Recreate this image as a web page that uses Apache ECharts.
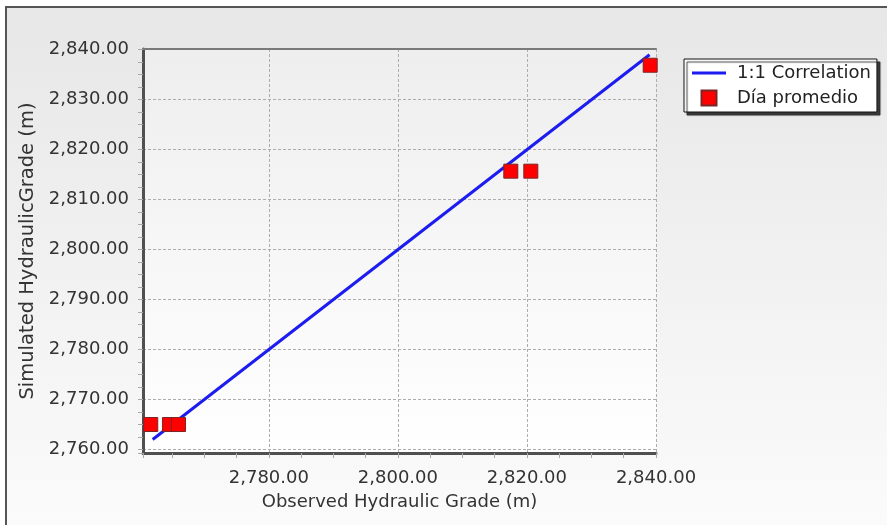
<!DOCTYPE html>
<html>
<head>
<meta charset="utf-8">
<script src="https://cdn.jsdelivr.net/npm/echarts@6/dist/echarts.min.js"></script>
<style>
  html, body { margin: 0; padding: 0; background: #ffffff; }
  #panel {
    position: absolute; left: 5px; top: 6px; width: 882px; height: 519px;
    border-left: 2px solid #555; border-top: 2px solid #555;
    background: linear-gradient(#e7e7e7, #fbfbfb);
  }
  #chart { position: absolute; left: 0; top: 0; width: 887px; height: 525px; }
</style>
</head>
<body>
<div id="panel"></div>
<div id="chart"></div>
<script>
// Observed vs simulated hydraulic grade (m) at the calibration nodes
const observed  = [2761.7, 2764.6, 2766.0, 2817.5, 2820.6, 2839.1];
const simulated = [2765.0, 2765.0, 2765.0, 2815.7, 2815.7, 2836.9];

// 1:1 reference line end points
const refLineX = [2762, 2839];
const refLineY = [2762, 2839];

const xRange = [2760.5, 2840];
const yRange = [2759.3, 2840.15];

const seriesNames = ['1:1 Correlation', 'Día promedio'];
const xTitle = 'Observed Hydraulic Grade (m)';
const yTitle = 'Simulated HydraulicGrade (m)';

const FONT = 'DejaVu Sans';
const fmt = v => v.toLocaleString('en-US', { minimumFractionDigits: 2, maximumFractionDigits: 2 });

const chart = echarts.init(document.getElementById('chart'), null, { renderer: 'canvas' });

const gridLine = { show: true, lineStyle: { color: '#adadad', type: [3, 2], width: 1 } };
const tickStyle = { show: true, inside: false, length: 5, lineStyle: { color: '#a8a8a8', width: 1 } };

chart.setOption({
  backgroundColor: 'transparent',
  animation: false,
  grid: {
    left: 143, right: 231, top: 49, bottom: 72,
    containLabel: false, outerBoundsMode: 'none',
    show: true, borderWidth: 0,
    backgroundColor: {
      type: 'linear', x: 0, y: 0, x2: 0, y2: 1,
      colorStops: [{ offset: 0, color: '#eeeeee' }, { offset: 1, color: '#ffffff' }]
    }
  },
  legend: {
    orient: 'vertical', left: 684, top: 59,
    padding: [5, 6, 5, 8],
    itemWidth: 34, itemHeight: 15, itemGap: 7,
    backgroundColor: '#ffffff', borderColor: '#111', borderWidth: 1,
    shadowColor: 'rgba(40,40,40,0.9)', shadowBlur: 1, shadowOffsetX: 3, shadowOffsetY: 3,
    textStyle: { fontFamily: FONT, fontSize: 18, color: '#222', padding: [0, 0, 0, 6] },
    data: [
      { name: seriesNames[0], icon: 'path://M0,0h34v3h-34z', itemStyle: { color: '#1c1cf0' } },
      { name: seriesNames[1], icon: 'path://M0,0h10v10h-10z' }
    ]
  },
  xAxis: [{
    type: 'value', min: xRange[0], max: xRange[1], splitNumber: 4,
    position: 'bottom',
    name: xTitle, nameLocation: 'middle', nameGap: 40,
    nameTextStyle: { fontFamily: FONT, fontSize: 18, color: '#333' },
    axisLine: { show: true, onZero: false, lineStyle: { color: '#505050', width: 3 } },
    axisTick: tickStyle,
    minorTick: { show: true, splitNumber: 4, length: 5, lineStyle: { color: '#a8a8a8', width: 1 } },
    axisLabel: { showMinLabel: false, margin: 16, fontFamily: FONT, fontSize: 18, color: '#333', formatter: fmt },
    splitLine: gridLine
  }, {
    type: 'value', min: xRange[0], max: xRange[1], position: 'top',
    axisLine: { show: true, onZero: false, lineStyle: { color: '#7a7a7a', width: 2 } },
    axisTick: { show: false }, axisLabel: { show: false }, splitLine: { show: false }
  }],
  yAxis: {
    type: 'value', min: yRange[0], max: yRange[1], splitNumber: 8,
    name: yTitle, nameLocation: 'middle', nameGap: 105,
    nameTextStyle: { fontFamily: FONT, fontSize: 19.5, color: '#333' },
    axisLine: { show: true, onZero: false, lineStyle: { color: '#505050', width: 3 } },
    axisTick: tickStyle,
    minorTick: { show: true, splitNumber: 4, length: 5, lineStyle: { color: '#a8a8a8', width: 1 } },
    axisLabel: { showMinLabel: false, showMaxLabel: false, margin: 14, fontFamily: FONT, fontSize: 18, color: '#333', formatter: fmt },
    splitLine: gridLine
  },
  series: [{
    name: seriesNames[0], type: 'line', xAxisIndex: 0,
    data: refLineX.map((x, i) => [x, refLineY[i]]),
    symbol: 'none', z: 2,
    lineStyle: { color: '#1c1cf0', width: 3 },
    itemStyle: { color: '#1c1cf0' }
  }, {
    name: seriesNames[1], type: 'scatter', xAxisIndex: 0,
    data: observed.map((x, i) => [x, simulated[i]]),
    symbol: 'rect', symbolSize: 14, z: 3,
    itemStyle: { color: '#ff0000', borderColor: '#7a2626', borderWidth: 1, opacity: 1 }
  }]
});
</script>
</body>
</html>
